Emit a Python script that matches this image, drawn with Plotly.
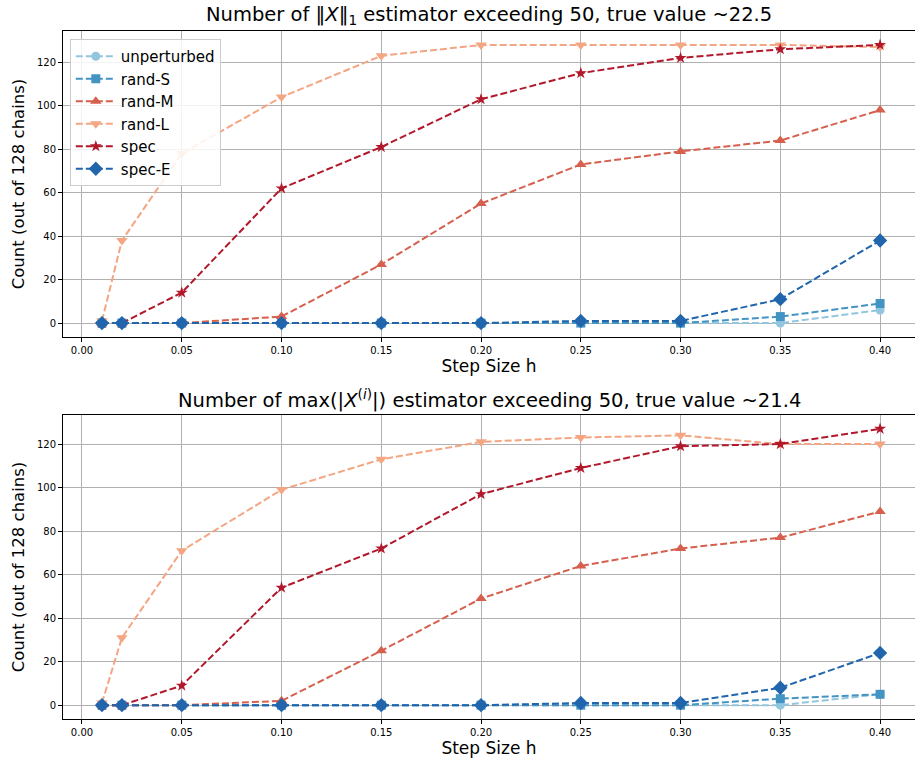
import plotly.graph_objects as go

# Step sizes shared by both panels
step_sizes = [0.01, 0.02, 0.05, 0.10, 0.15, 0.20, 0.25, 0.30, 0.35, 0.40]
x_ticks = [0.00, 0.05, 0.10, 0.15, 0.20, 0.25, 0.30, 0.35, 0.40]
x_tick_labels = ["0.00", "0.05", "0.10", "0.15", "0.20", "0.25", "0.30", "0.35", "0.40"]
y_ticks = [0, 20, 40, 60, 80, 100, 120]

series_names = ["unperturbed", "rand-S", "rand-M", "rand-L", "spec", "spec-E"]

# Counts of chains whose ||X||_1 estimate exceeded 50
l1_unperturbed = [0, 0, 0, 0, 0, 0, 0, 0, 0, 6]
l1_rand_s = [0, 0, 0, 0, 0, 0, 0, 0, 3, 9]
l1_rand_m = [0, 0, 0, 3, 27, 55, 73, 79, 84, 98]
l1_rand_l = [1, 38, 78, 104, 123, 128, 128, 128, 128, 127]
l1_spec = [0, 0, 14, 62, 81, 103, 115, 122, 126, 128]
l1_spec_e = [0, 0, 0, 0, 0, 0, 1, 1, 11, 38]

# Counts of chains whose max(|X^(i)|) estimate exceeded 50
max_unperturbed = [0, 0, 0, 0, 0, 0, 0, 0, 0, 5]
max_rand_s = [0, 0, 0, 0, 0, 0, 0, 0, 3, 5]
max_rand_m = [0, 0, 0, 2, 25, 49, 64, 72, 77, 89]
max_rand_l = [1, 31, 71, 99, 113, 121, 123, 124, 120, 120]
max_spec = [0, 0, 9, 54, 72, 97, 109, 119, 120, 127]
max_spec_e = [0, 0, 0, 0, 0, 0, 1, 1, 8, 24]

colors = ["#92c5de", "#4393c3", "#d6604d", "#f4a582", "#b2182b", "#2166ac"]
symbols = ["circle", "square", "triangle-up", "triangle-down", "star", "diamond"]
sizes = [9, 9, 10, 10, 9, 11]

top_data = [l1_unperturbed, l1_rand_s, l1_rand_m, l1_rand_l, l1_spec, l1_spec_e]
bottom_data = [max_unperturbed, max_rand_s, max_rand_m, max_rand_l, max_spec, max_spec_e]

FONT = "DejaVu Sans"
W, H = 915, 761

fig = go.Figure()
for panel, (data, xa, ya) in enumerate([(top_data, "x", "y"), (bottom_data, "x2", "y2")]):
    for name, vals, c, s, sz in zip(series_names, data, colors, symbols, sizes):
        fig.add_trace(go.Scatter(
            x=step_sizes, y=vals, name=name, xaxis=xa, yaxis=ya,
            mode="lines+markers",
            line=dict(color=c, width=2, dash="7px,3px"),
            marker=dict(symbol=s, size=sz, color=c, line=dict(width=0)),
            showlegend=(panel == 0), legendgroup=name,
        ))

def px_y(p):
    return 1 - p / H

axis_common = dict(
    showline=True, linecolor="black", linewidth=1, mirror=True,
    ticks="outside", ticklen=4, tickcolor="black", tickwidth=1,
    showgrid=True, gridcolor="#b0b0b0", gridwidth=1, zeroline=False,
    tickfont=dict(family=FONT, size=10, color="black"),
    automargin=False,
)

x_range = [-0.00952, 0.4175]
xaxis = dict(axis_common, range=x_range, tickvals=x_ticks, ticktext=x_tick_labels,
             title=dict(text="Step Size h", font=dict(family=FONT, size=17, color="black"), standoff=5))
yaxis_title = dict(text="Count (out of 128 chains)", font=dict(family=FONT, size=16.5, color="black"), standoff=8)

fig.update_layout(
    width=W, height=H,
    margin=dict(l=63, r=0, t=0, b=0),
    paper_bgcolor="white", plot_bgcolor="white",
    font=dict(family=FONT, color="black"),
    xaxis=dict(xaxis, domain=[0, 1], anchor="y"),
    yaxis=dict(axis_common, range=[-6.4, 134.4], tickvals=y_ticks,
               domain=[px_y(337), px_y(31)], anchor="x", title=yaxis_title),
    xaxis2=dict(xaxis, domain=[0, 1], anchor="y2"),
    yaxis2=dict(axis_common, range=[-6.35, 133.35], tickvals=y_ticks,
                domain=[px_y(719), px_y(415)], anchor="x2", title=yaxis_title),
    legend=dict(
        x=0.008, y=px_y(39), xanchor="left", yanchor="top",
        bgcolor="rgba(255,255,255,0.85)", bordercolor="#cccccc", borderwidth=1,
        font=dict(family=FONT, size=15, color="black"),
        itemwidth=40, tracegroupgap=0,
    ),
    showlegend=True,
)

title_font = dict(family=FONT, size=19.5, color="black")
fig.add_annotation(
    text="Number of ‖<i>X</i>‖<sub>1</sub> estimator exceeding 50, true value ~22.5",
    xref="paper", yref="paper", x=0.5, y=px_y(30), xanchor="center", yanchor="bottom",
    showarrow=False, font=title_font,
)
fig.add_annotation(
    text="Number of max(|<i>X</i><sup>(<i>i</i>)</sup>|) estimator exceeding 50, true value ~21.4",
    xref="paper", yref="paper", x=0.5, y=px_y(414), xanchor="center", yanchor="bottom",
    showarrow=False, font=title_font,
)

fig.write_html("out.html")
